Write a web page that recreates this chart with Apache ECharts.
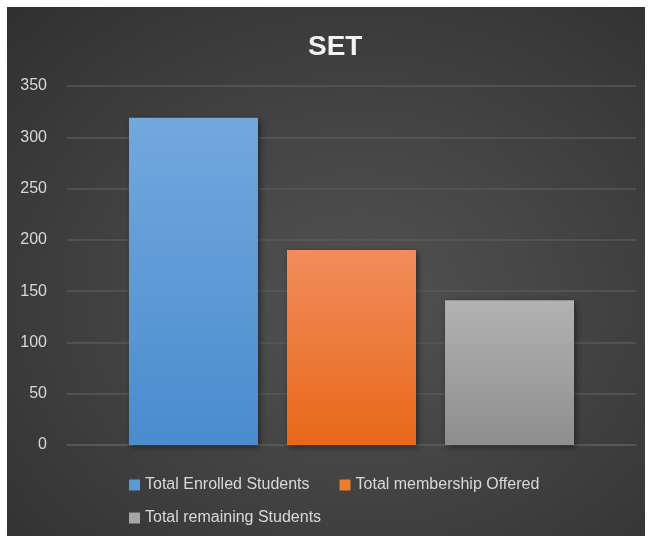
<!DOCTYPE html>
<html>
<head>
<meta charset="utf-8">
<script src="https://cdn.jsdelivr.net/npm/echarts@6/dist/echarts.min.js"></script>
<style>
  html, body { margin: 0; padding: 0; background: #ffffff; width: 654px; height: 541px; overflow: hidden; }
  #c { position: absolute; left: 7px; top: 7px; width: 638px; height: 529px;
       background: radial-gradient(ellipse at 55% 55%, #525252 0%, #454545 40%, #303030 100%); }
</style>
</head>
<body>
<div id="c"></div>
<script>
const categories = ['SET'];
const seriesNames = ['Total Enrolled Students', 'Total membership Offered', 'Total remaining Students'];
const values = [319, 190, 141];
const yTicks = { min: 0, max: 350, interval: 50 };

const gradients = [
  ['#72a8de', '#4a8cce'],
  ['#f18d5c', '#e86818'],
  ['#b2b2b2', '#8e8e8e']
];
const legendColors = ['#5b9bd5', '#ed7d31', '#a5a5a5'];

const chart = echarts.init(document.getElementById('c'), null, { renderer: 'canvas' });

const series = seriesNames.map((name, i) => ({
  name: name,
  type: 'bar',
  barWidth: 129,
  barGap: '22.5%',
  data: [values[i]],
  itemStyle: {
    color: new echarts.graphic.LinearGradient(0, 0, 0, 1, [
      { offset: 0, color: gradients[i][0] },
      { offset: 1, color: gradients[i][1] }
    ]),
    shadowBlur: 6,
    shadowColor: 'rgba(0,0,0,0.45)',
    shadowOffsetX: 2,
    shadowOffsetY: 2
  }
}));

const legendText = { color: '#d9d9d9', fontSize: 16, fontFamily: 'Liberation Sans, Arial, sans-serif' };

chart.setOption({
  backgroundColor: 'transparent',
  animation: false,
  title: {
    text: 'SET',
    left: 296,
    top: 21,
    textStyle: { color: '#f2f2f2', fontSize: 28, fontWeight: 'bold', fontFamily: 'Liberation Sans, Arial, sans-serif' }
  },
  legend: [
    {
      data: [seriesNames[0], seriesNames[1]].map((n, i) => ({ name: n, itemStyle: { color: legendColors[i] } })),
      left: 117, top: 465,
      itemWidth: 11, itemHeight: 11, itemGap: 30,
      icon: 'rect',
      textStyle: legendText
    },
    {
      data: [{ name: seriesNames[2], itemStyle: { color: legendColors[2] } }],
      left: 117, top: 498,
      itemWidth: 11, itemHeight: 11,
      icon: 'rect',
      textStyle: legendText
    }
  ],
  grid: { left: 60, right: 9, top: 79, bottom: 91 },
  xAxis: {
    type: 'category',
    data: categories,
    axisLine: { show: true, lineStyle: { color: '#5a5a5a', width: 1.5 } },
    axisTick: { show: false },
    axisLabel: { show: false }
  },
  yAxis: {
    type: 'value',
    min: yTicks.min, max: yTicks.max, interval: yTicks.interval,
    axisLine: { show: false },
    axisTick: { show: false },
    axisLabel: { color: '#d9d9d9', fontSize: 16, margin: 20, fontFamily: 'Liberation Sans, Arial, sans-serif' },
    splitLine: { lineStyle: { color: '#585858', width: 1.5 } }
  },
  series: series
});
</script>
</body>
</html>
